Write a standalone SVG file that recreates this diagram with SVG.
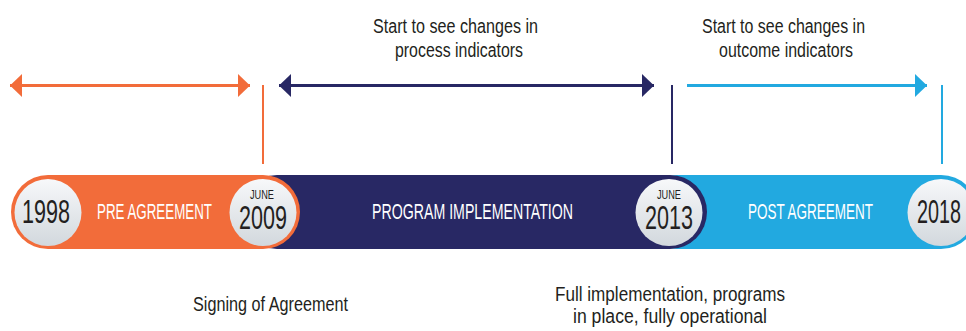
<svg xmlns="http://www.w3.org/2000/svg" width="966" height="331" viewBox="0 0 966 331">
<style>
  .lbl { font-family: "Liberation Sans Narrow", "Liberation Sans", Arial, sans-serif; fill: #231f20; font-size: 20px; text-anchor: middle; }
  .bar { font-family: "Liberation Sans Narrow", "Liberation Sans", Arial, sans-serif; fill: #ffffff; font-size: 22px; text-anchor: middle; }
  .yr { font-family: "Liberation Sans Narrow", "Liberation Sans", Arial, sans-serif; fill: #231f20; font-size: 33px; text-anchor: middle; }
  .mo { font-family: "Liberation Sans Narrow", "Liberation Sans", Arial, sans-serif; fill: #231f20; font-size: 13px; text-anchor: middle; }
  .disc { fill: url(#discGrad); }
</style>
<defs>
  <linearGradient id="discGrad" x1="0" y1="0" x2="0" y2="1">
    <stop offset="0" stop-color="#f7f8fa"/>
    <stop offset="1" stop-color="#d2d8dd"/>
  </linearGradient>
  <marker id="ahO" viewBox="0 0 12 23" markerWidth="12" markerHeight="23" refX="12" refY="11.5" orient="auto-start-reverse" markerUnits="userSpaceOnUse">
    <path d="M0,0 L12,11.5 L0,23 z" fill="#f26c3a"/>
  </marker>
  <marker id="ahN" viewBox="0 0 12 23" markerWidth="12" markerHeight="23" refX="12" refY="11.5" orient="auto-start-reverse" markerUnits="userSpaceOnUse">
    <path d="M0,0 L12,11.5 L0,23 z" fill="#282864"/>
  </marker>
  <marker id="ahB" viewBox="0 0 12 23" markerWidth="12" markerHeight="23" refX="12" refY="11.5" orient="auto-start-reverse" markerUnits="userSpaceOnUse">
    <path d="M0,0 L12,11.5 L0,23 z" fill="#22a9e0"/>
  </marker>
</defs>
<rect width="966" height="331" fill="#ffffff"/>

<g id="connectors">
  <line x1="10" y1="85.5" x2="250" y2="85.5" stroke="#f26c3a" stroke-width="3" marker-start="url(#ahO)" marker-end="url(#ahO)"/>
  <line x1="279" y1="85.5" x2="654" y2="85.5" stroke="#282864" stroke-width="3" marker-start="url(#ahN)" marker-end="url(#ahN)"/>
  <line x1="687" y1="85.5" x2="927" y2="85.5" stroke="#22a9e0" stroke-width="3" marker-end="url(#ahB)"/>
  <line x1="263" y1="85" x2="263" y2="164" stroke="#f26c3a" stroke-width="2"/>
  <line x1="672" y1="85" x2="672" y2="164" stroke="#282864" stroke-width="2"/>
  <line x1="942" y1="85" x2="942" y2="164" stroke="#22a9e0" stroke-width="2"/>
</g>

<g id="labels-top">
  <text class="lbl" x="455.5" y="33" textLength="165" lengthAdjust="spacingAndGlyphs">Start to see changes in</text>
  <text class="lbl" x="459" y="57" textLength="128" lengthAdjust="spacingAndGlyphs">process indicators</text>
  <text class="lbl" x="783.5" y="33" textLength="163" lengthAdjust="spacingAndGlyphs">Start to see changes in</text>
  <text class="lbl" x="786" y="57" textLength="134" lengthAdjust="spacingAndGlyphs">outcome indicators</text>
</g>

<g id="post-agreement">
  <rect x="640" y="175" width="338" height="74" rx="37" fill="#22a9e0"/>
  <text class="bar" x="810.5" y="219" textLength="125" lengthAdjust="spacingAndGlyphs">POST AGREEMENT</text>
</g>
<g id="program-implementation">
  <rect x="240" y="175" width="467" height="74" rx="37" fill="#282864"/>
  <text class="bar" x="472.5" y="219" textLength="201" lengthAdjust="spacingAndGlyphs">PROGRAM IMPLEMENTATION</text>
</g>
<g id="pre-agreement">
  <rect x="11" y="175" width="289" height="74" rx="37" fill="#f26c3a"/>
  <text class="bar" x="154.5" y="219" textLength="115" lengthAdjust="spacingAndGlyphs">PRE AGREEMENT</text>
</g>

<g id="y1998">
  <circle class="disc" cx="48" cy="212.5" r="33.5"/>
  <text class="yr" x="46" y="223" textLength="48" lengthAdjust="spacingAndGlyphs">1998</text>
</g>
<g id="y2009">
  <circle class="disc" cx="263" cy="212.5" r="33.5"/>
  <text class="mo" x="262" y="198.5" textLength="24" lengthAdjust="spacingAndGlyphs">JUNE</text>
  <text class="yr" x="263" y="228.5" textLength="48" lengthAdjust="spacingAndGlyphs">2009</text>
</g>
<g id="y2013">
  <circle class="disc" cx="669" cy="212.5" r="33.5"/>
  <text class="mo" x="669" y="198.5" textLength="24" lengthAdjust="spacingAndGlyphs">JUNE</text>
  <text class="yr" x="669" y="228.5" textLength="48" lengthAdjust="spacingAndGlyphs">2013</text>
</g>
<g id="y2018">
  <circle class="disc" cx="941" cy="212.5" r="33.5"/>
  <text class="yr" x="939" y="223" textLength="44" lengthAdjust="spacingAndGlyphs">2018</text>
</g>

<g id="labels-bottom">
  <text class="lbl" x="270.5" y="311" textLength="155" lengthAdjust="spacingAndGlyphs">Signing of Agreement</text>
  <text class="lbl" x="670" y="301" textLength="230" lengthAdjust="spacingAndGlyphs">Full implementation, programs</text>
  <text class="lbl" x="670" y="323" textLength="194" lengthAdjust="spacingAndGlyphs">in place, fully operational</text>
</g>
</svg>
